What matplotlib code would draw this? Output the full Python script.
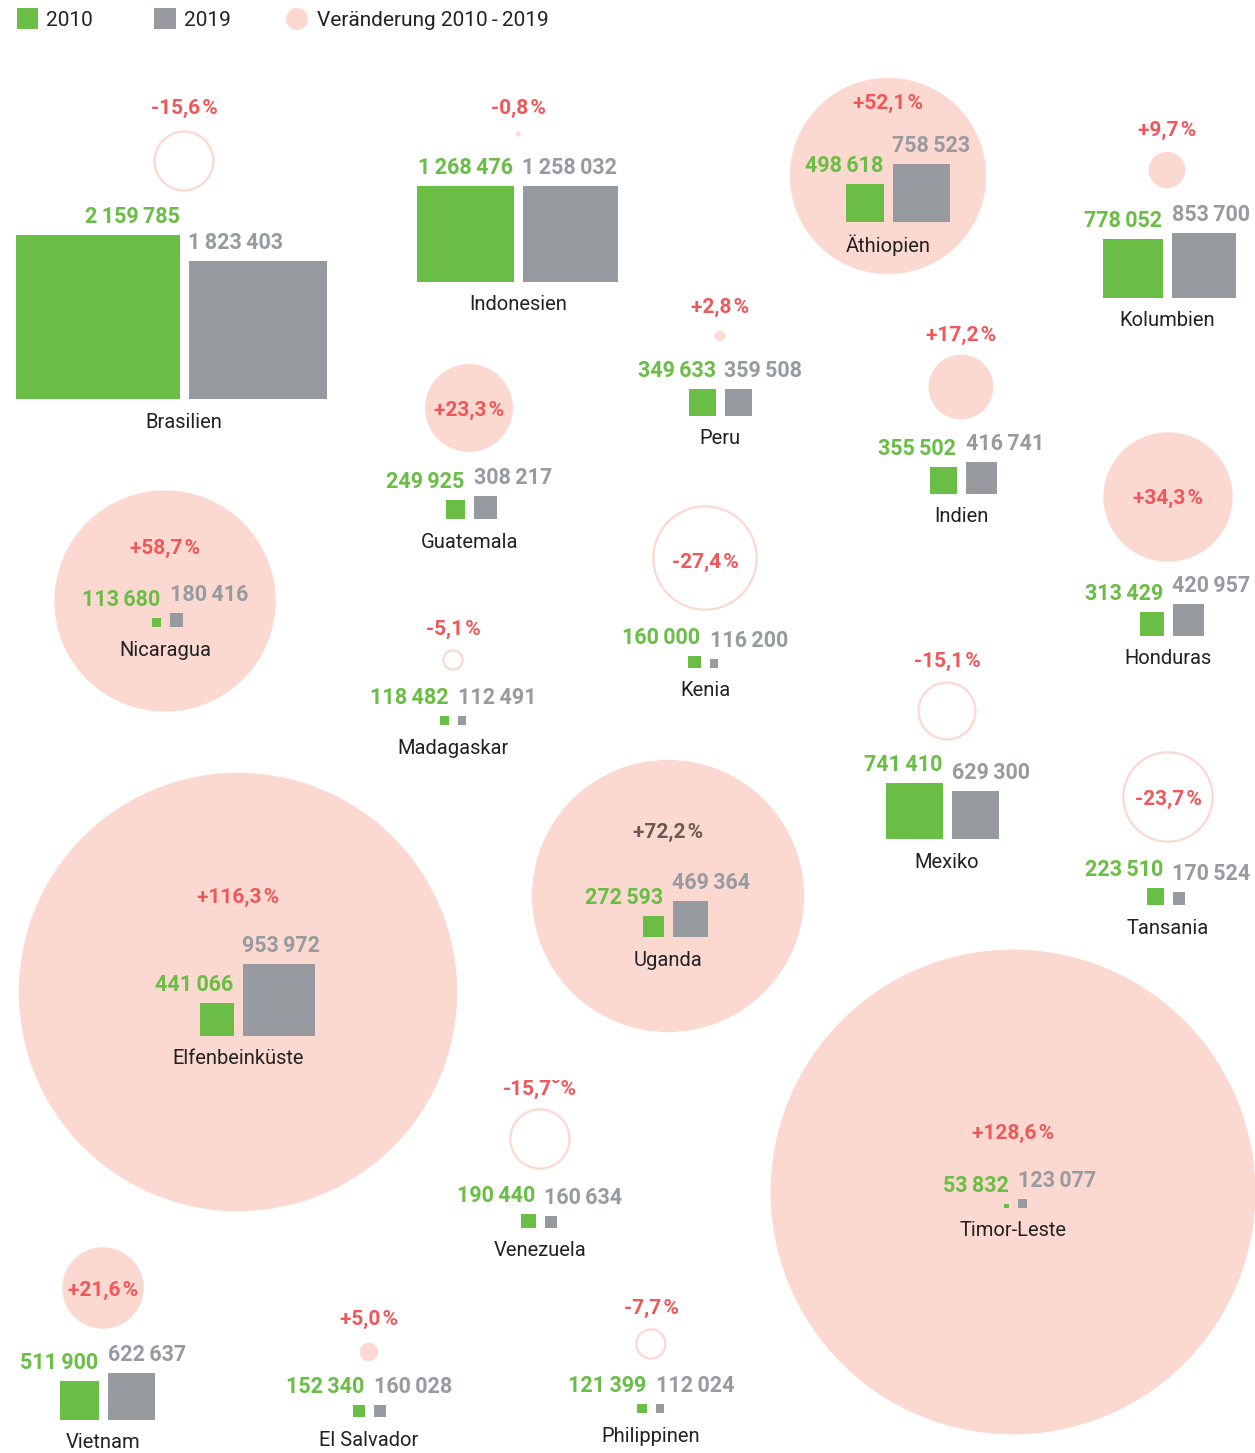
import matplotlib
matplotlib.use('Agg')
import matplotlib.pyplot as plt
from matplotlib.patches import Rectangle, Circle

plt.rcParams['font.family'] = ['Roboto', 'DejaVu Sans']

# Daten
laender = ['Brasilien', 'Indonesien', 'Äthiopien', 'Kolumbien', 'Peru', 'Indien',
           'Guatemala', 'Honduras', 'Nicaragua', 'Madagaskar', 'Kenia', 'Mexiko',
           'Tansania', 'Elfenbeinküste', 'Uganda', 'Venezuela', 'Timor-Leste',
           'Vietnam', 'El Salvador', 'Philippinen']
wert_2010 = [2159785, 1268476, 498618, 778052, 349633, 355502,
             249925, 313429, 113680, 118482, 160000, 741410,
             223510, 441066, 272593, 190440, 53832,
             511900, 152340, 121399]
wert_2019 = [1823403, 1258032, 758523, 853700, 359508, 416741,
             308217, 420957, 180416, 112491, 116200, 629300,
             170524, 953972, 469364, 160634, 123077,
             622637, 160028, 112024]
veraenderung = [-15.6, -0.8, 52.1, 9.7, 2.8, 17.2,
                23.3, 34.3, 58.7, -5.1, -27.4, -15.1,
                -23.7, 116.3, 72.2, -15.7, 128.6,
                21.6, 5.0, -7.7]

# Anordnung: (x Mitte, Grundlinie, Kreis y, Prozent-Label y)
layout = [(184, 399, 161, 108), (518, 282, 134, 108), (888, 222, 176, 103),
          (1167, 298, 170, 130), (720, 416, 336, 307), (961, 494, 387, 335),
          (469, 519, 408, 410), (1168, 636, 497, 498), (165, 627, 601, 548),
          (453, 725, 660, 629), (705, 668, 558, 562), (947, 839, 711, 661),
          (1168, 905, 797, 799), (238, 1036, 992, 897), (668, 937, 896, 832),
          (540, 1228, 1139, 1089), (1013, 1208, 1192, 1133),
          (103, 1420, 1288, 1290), (369, 1417, 1352, 1319), (651, 1413, 1344, 1308)]

GRUEN = '#6abd45'
GRAU = '#979b9f'
ROSA = '#fbd9d0'
ROT = '#f0575b'
TEXT = '#222222'
K_QUAD = 164 / 2159785   # Seitenlaenge pro Einheit
K_KREIS = 3.77           # Durchmesser pro Prozentpunkt


def zahl(v):
    return f'{v:,}'.replace(',', '\u2009')


def prozent(p):
    s = f'{p:+.1f}'.replace('.', ',')
    return s + '\u200a%'


fig = plt.figure(figsize=(12.55, 14.53), dpi=100)
ax = fig.add_axes([0, 0, 1, 1])
ax.set_xlim(0, 1255)
ax.set_ylim(1453, 0)
ax.axis('off')

for name, a, b, p, (gx, by, cy, py) in zip(laender, wert_2010, wert_2019,
                                             veraenderung, layout):
    r = abs(p) * K_KREIS / 2
    if p > 0:
        ax.add_patch(Circle((gx, cy), r, facecolor=ROSA, edgecolor='none', zorder=1))
    else:
        ax.add_patch(Circle((gx, cy), r, facecolor='none', edgecolor=ROSA,
                            lw=1.6, zorder=1))
    sa = a * K_QUAD
    sb = b * K_QUAD
    ax.add_patch(Rectangle((gx - 4.5 - sa, by - sa), sa, sa, color=GRUEN, lw=0, zorder=2))
    ax.add_patch(Rectangle((gx + 4.5, by - sb), sb, sb, color=GRAU, lw=0, zorder=2))
    ax.text(gx - 4.5, by - sa - 12, zahl(a), color=GRUEN, fontsize=15.5,
            fontweight='bold', ha='right', va='baseline', zorder=3)
    ax.text(gx + 4.5, by - sb - 12, zahl(b), color=GRAU, fontsize=15.5,
            fontweight='bold', ha='left', va='baseline', zorder=3)
    ax.text(gx, by + 23, name, color=TEXT, fontsize=14.5, ha='center',
            va='center', zorder=3)
    ptxt = prozent(p)
    if name == 'Venezuela':
        ptxt = ptxt.replace('\u200a%', '\u02d8%')
    pcol = '#6b5a54' if name == 'Uganda' else ROT
    ax.text(gx, py, ptxt, color=pcol, fontsize=15, fontweight='bold',
            ha='center', va='center', zorder=3)

# Legende
ax.add_patch(Rectangle((17, 8), 21, 21, color=GRUEN, lw=0))
ax.text(46, 20, '2010', fontsize=15, color=TEXT, va='center')
ax.add_patch(Rectangle((154, 8), 22, 21, color=GRAU, lw=0))
ax.text(184, 20, '2019', fontsize=15, color=TEXT, va='center')
ax.add_patch(Circle((297, 19), 11, color=ROSA, lw=0))
ax.text(317, 20, 'Veränderung 2010\u2009-\u20092019', fontsize=15, color=TEXT, va='center')

fig.savefig('out.png', dpi=100)
